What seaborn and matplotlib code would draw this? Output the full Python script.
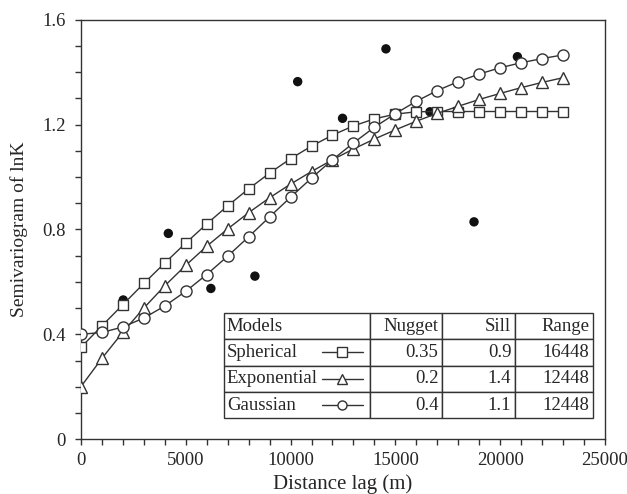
import numpy as np
import pandas as pd
import matplotlib
matplotlib.use("Agg")
import matplotlib.pyplot as plt
from matplotlib.ticker import MultipleLocator
import seaborn as sns

# model curves (every 1000 m)
lag = [0, 1000, 2000, 3000, 4000, 5000, 6000, 7000, 8000, 9000, 10000, 11000,
       12000, 13000, 14000, 15000, 16000, 17000, 18000, 19000, 20000, 21000, 22000, 23000]
spherical = [0.350, 0.432, 0.513, 0.594, 0.672, 0.748, 0.821, 0.890, 0.955, 1.015, 1.070, 1.118,
             1.160, 1.195, 1.222, 1.240, 1.249, 1.250, 1.250, 1.250, 1.250, 1.250, 1.250, 1.250]
exponential = [0.200, 0.308, 0.408, 0.500, 0.585, 0.663, 0.736, 0.802, 0.864, 0.921, 0.973, 1.021,
               1.066, 1.107, 1.145, 1.180, 1.213, 1.243, 1.270, 1.296, 1.319, 1.341, 1.361, 1.379]
gaussian = [0.400, 0.407, 0.428, 0.462, 0.508, 0.564, 0.628, 0.698, 0.772, 0.848, 0.923, 0.996,
            1.066, 1.130, 1.190, 1.242, 1.289, 1.330, 1.364, 1.393, 1.417, 1.436, 1.452, 1.466]

# experimental semivariogram
exp_lag = [2020, 4170, 6200, 8300, 10340, 12480, 14550, 16650, 18750, 20820]
exp_gamma = [0.531, 0.785, 0.575, 0.622, 1.364, 1.224, 1.489, 1.249, 0.829, 1.459]

table_rows = [["Models", "Nugget", "Sill", "Range"],
              ["Spherical", "0.35", "0.9", "16448"],
              ["Exponential", "0.2", "1.4", "12448"],
              ["Gaussian", "0.4", "1.1", "12448"]]

sns.set_style("ticks")
plt.rcParams['font.family'] = ['Liberation Serif', 'DejaVu Serif']

ink = '#333333'
fig, ax = plt.subplots(figsize=(6.27, 4.94), dpi=100)
fig.subplots_adjust(left=0.129, right=0.965, bottom=0.111, top=0.960)

sns.scatterplot(x=exp_lag, y=exp_gamma, ax=ax, color='#111111', s=46, edgecolor='none', zorder=2)

models = pd.DataFrame({"lag": lag, "Spherical": spherical, "Exponential": exponential, "Gaussian": gaussian})
marker_of = {"Spherical": "s", "Exponential": "^", "Gaussian": "o"}
for name, mk in marker_of.items():
    sns.lineplot(data=models, x="lag", y=name, ax=ax, color=ink, lw=1.0, marker=mk,
                 markersize=8 if mk != "s" else 7.5, markerfacecolor='white',
                 markeredgecolor=ink, markeredgewidth=1.0, zorder=3)

ax.set_xlim(0, 25000)
ax.set_ylim(0, 1.6)
ax.xaxis.set_major_locator(MultipleLocator(5000))
ax.xaxis.set_minor_locator(MultipleLocator(1000))
ax.yaxis.set_major_locator(MultipleLocator(0.4))
ax.yaxis.set_minor_locator(MultipleLocator(0.1))
ax.yaxis.set_major_formatter(lambda v, p: "0" if v == 0 else f"{v:.1f}")
ax.tick_params(which='both', direction='out', length=4, width=1, color=ink, labelsize=13.5)
ax.tick_params(axis='y', pad=7)
ax.tick_params(axis='x', pad=5)
for s in ax.spines.values():
    s.set_color(ink)
    s.set_linewidth(1.0)
ax.set_xlabel("Distance lag (m)", fontsize=15)
ax.set_ylabel("Semivariogram of lnK", fontsize=14)
ax.xaxis.set_label_coords(0.5, -0.083)
ax.yaxis.set_label_coords(-0.1, 0.5)

# parameter table used as legend
tb_left, tb_bottom, tb_w, tb_h = 0.273, 0.050, 0.704, 0.251
col_w = [0.279, 0.137, 0.139, 0.149]
tbl = ax.table(cellText=table_rows, colWidths=[c / tb_w for c in col_w],
               bbox=[tb_left, tb_bottom, tb_w, tb_h], zorder=5)
tbl.auto_set_font_size(False)
for (r, c), cell in tbl.get_celld().items():
    cell.set_edgecolor(ink)
    cell.set_linewidth(1.0)
    cell.PAD = 0.02 if c == 0 else 0.05
    cell._loc = 'left' if c == 0 else 'right'
    cell.get_text().set_fontsize(13.5)
    cell.get_text().set_ha('left' if c == 0 else 'right')

row_h = tb_h / 4
for i, (name, mk) in enumerate(marker_of.items()):
    yc = tb_bottom + tb_h - (i + 1.5) * row_h
    ax.plot([0.460, 0.538], [yc, yc], transform=ax.transAxes, color=ink, lw=1.0, zorder=6)
    ax.plot([0.499], [yc], transform=ax.transAxes, marker=mk, markersize=6.5,
            markerfacecolor='white', markeredgecolor=ink, markeredgewidth=1.0, zorder=7)

fig.savefig("out.png", dpi=100)
